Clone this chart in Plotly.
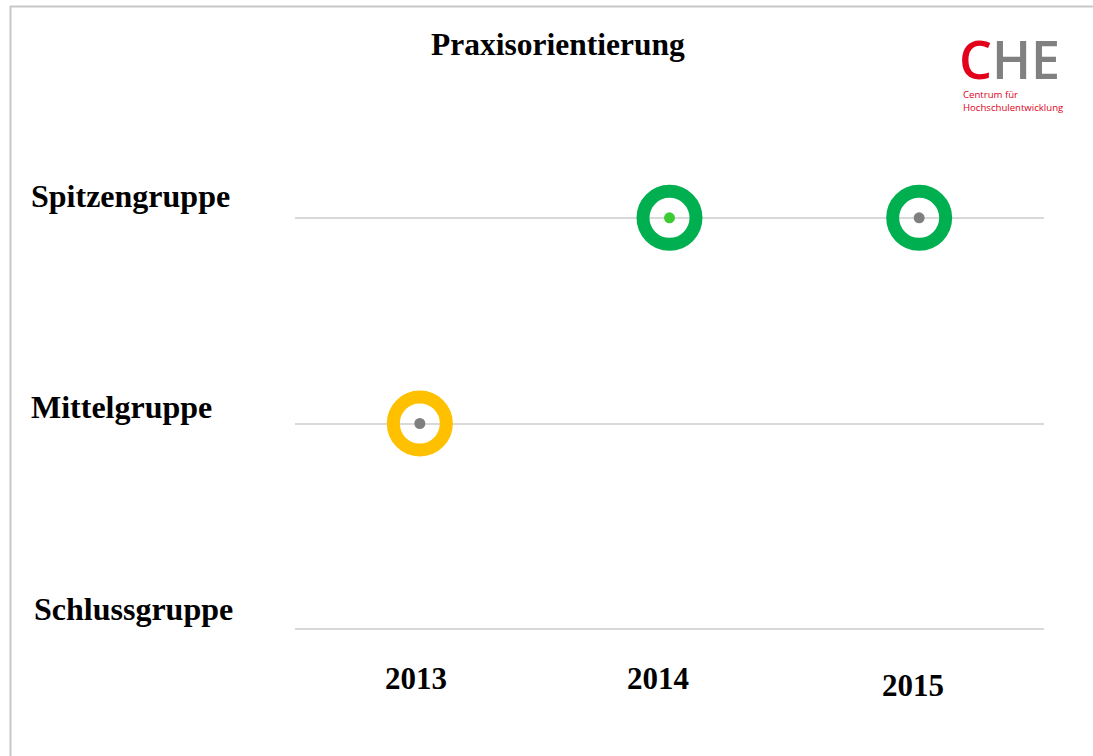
import plotly.graph_objects as go

years = ["2013", "2014", "2015"]
group_labels = ["Schlussgruppe", "Mittelgruppe", "Spitzengruppe"]
group_values = [1, 2, 3]
result_group = [2, 3, 3]          # Mittelgruppe, Spitzengruppe, Spitzengruppe
ring_colors = ["#FFC000", "#00B050", "#00B050"]
dot_colors = ["#7F7F7F", "#3CCB33", "#7F7F7F"]

W, H = 1093, 756
L, R, T, B = 295, 1093 - 1044, 115, 24
pw = W - L - R
ph = H - T - B

def px_x(p):
    return (p - L) / pw

def px_y(p):
    return (H - B - p) / ph

xpos = [i + 0.5 for i in range(len(years))]

fig = go.Figure()
fig.add_trace(go.Scatter(
    x=xpos, y=result_group, mode="markers",
    marker=dict(symbol="circle", size=53, color="rgba(0,0,0,0)",
                line=dict(color=ring_colors, width=13)),
    cliponaxis=False, hoverinfo="skip", showlegend=False))
fig.add_trace(go.Scatter(
    x=xpos, y=result_group, mode="markers",
    marker=dict(symbol="circle", size=11, color=dot_colors, line=dict(width=0)),
    cliponaxis=False, hoverinfo="skip", showlegend=False))

serif = "Liberation Serif, Times New Roman, serif"

annotations = []
# group labels (left)
label_px = {"Spitzengruppe": (29, 196), "Mittelgruppe": (29, 407), "Schlussgruppe": (32, 609)}
for lab in group_labels:
    lx, ly = label_px[lab]
    annotations.append(dict(text=f"<b>{lab}</b>", xref="paper", yref="paper",
                            x=px_x(lx), y=px_y(ly), xanchor="left", yanchor="middle",
                            showarrow=False, font=dict(family=serif, size=32, color="black")))
# year labels
year_px = {"2013": (416, 678), "2014": (658, 678), "2015": (913, 685)}
for yr in years:
    yx, yy = year_px[yr]
    annotations.append(dict(text=f"<b>{yr}</b>", xref="paper", yref="paper",
                            x=px_x(yx), y=px_y(yy), xanchor="center", yanchor="middle",
                            showarrow=False, font=dict(family=serif, size=31, color="black")))
# title
annotations.append(dict(text="<b>Praxisorientierung</b>", xref="paper", yref="paper",
                        x=px_x(558), y=px_y(44), xanchor="center", yanchor="middle",
                        showarrow=False, font=dict(family=serif, size=31.5, color="black")))
# logo
sans = "Open Sans, DejaVu Sans, sans-serif"
annotations.append(dict(text="<span style='color:#E2001A'>C</span><span style='color:#808080'>HE</span>",
                        xref="paper", yref="paper", x=px_x(957), y=px_y(58),
                        xanchor="left", yanchor="middle", showarrow=False, height=44,
                        font=dict(family=sans, size=52, weight=600)))
annotations.append(dict(text="Centrum für",
                        xref="paper", yref="paper", x=px_x(961), y=px_y(94),
                        xanchor="left", yanchor="middle", align="left", showarrow=False,
                        font=dict(family=sans, size=9.6, color="#E2001A")))
annotations.append(dict(text="Hochschulentwicklung",
                        xref="paper", yref="paper", x=px_x(961), y=px_y(107),
                        xanchor="left", yanchor="middle", align="left", showarrow=False,
                        font=dict(family=sans, size=9.6, color="#E2001A")))

shapes = [
    dict(type="line", xref="paper", yref="paper", x0=px_x(10.5), x1=px_x(10.5),
         y0=px_y(6), y1=px_y(H + 5), line=dict(color="#C8C8C8", width=2)),
    dict(type="line", xref="paper", yref="paper", x0=px_x(10), x1=px_x(W + 5),
         y0=px_y(6.5), y1=px_y(6.5), line=dict(color="#C8C8C8", width=2)),
]

fig.update_layout(
    width=W, height=H,
    margin=dict(l=L, r=R, t=T, b=B),
    paper_bgcolor="white", plot_bgcolor="white",
    xaxis=dict(range=[0, 3], showgrid=False, zeroline=False, showticklabels=False,
               showline=False, fixedrange=True),
    yaxis=dict(range=[0.5, 3.5], tickvals=group_values, showgrid=True, gridcolor="#D9D9D9",
               gridwidth=2, zeroline=False, showticklabels=False, showline=False,
               fixedrange=True),
    annotations=annotations, shapes=shapes, showlegend=False,
)

fig.write_html("out.html")
